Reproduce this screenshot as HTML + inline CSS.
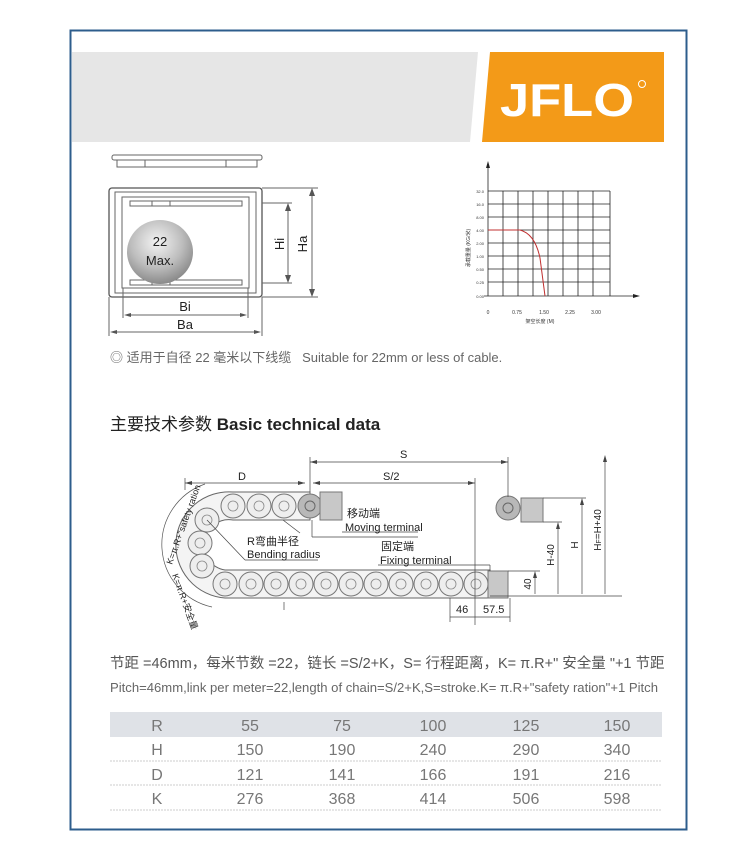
<!DOCTYPE html>
<html><head><meta charset="utf-8"><style>
body{margin:0;background:#fff;width:750px;height:859px;overflow:hidden;font-family:"Liberation Sans","Noto Sans CJK SC",sans-serif}
</style></head><body>
<svg width="750" height="859" viewBox="0 0 750 859" xmlns="http://www.w3.org/2000/svg" style="position:absolute;left:0;top:0;font-family:'Liberation Sans','Noto Sans CJK SC',sans-serif">
<rect x="70.5" y="30.5" width="616" height="799" fill="#fff" stroke="#2d5d8c" stroke-width="2"/>
<polygon points="72,52 478,52 470,142 72,142" fill="#e6e6e6"/>
<polygon points="490,52 664,52 664,142 482,142" fill="#f39a18"/>
<text x="500" y="116" font-size="46" font-weight="bold" fill="#fff" textLength="134" lengthAdjust="spacingAndGlyphs">JFLO</text>
<circle cx="642" cy="84" r="3.5" fill="none" stroke="#fff" stroke-width="1"/>
<!-- top view -->
<g fill="none" stroke="#666" stroke-width="1">
<rect x="112" y="155" width="150" height="5" rx="2"/>
<rect x="117" y="160" width="140" height="7"/>
<line x1="145" y1="160" x2="145" y2="167"/><line x1="226" y1="160" x2="226" y2="167"/>
<!-- cross section -->
<rect x="109" y="188" width="153" height="109" rx="3" stroke="#555" stroke-width="1.3"/>
<rect x="115" y="192" width="141" height="101"/>
<rect x="122" y="197" width="127" height="91"/>
<rect x="130" y="201" width="40" height="5"/><rect x="152" y="201" width="90" height="5"/>
<rect x="130" y="280" width="40" height="5"/><rect x="152" y="280" width="90" height="5"/>
<line x1="262" y1="188" x2="318" y2="188"/><line x1="262" y1="297" x2="318" y2="297"/>
<line x1="262" y1="203" x2="292" y2="203"/><line x1="262" y1="283" x2="292" y2="283"/>
<line x1="312" y1="190" x2="312" y2="295"/><line x1="288" y1="205" x2="288" y2="281"/>
<line x1="123" y1="288" x2="123" y2="318"/><line x1="248" y1="288" x2="248" y2="318"/>
<line x1="109" y1="297" x2="109" y2="336"/><line x1="262" y1="297" x2="262" y2="336"/>
<line x1="127" y1="315" x2="245" y2="315"/><line x1="113" y1="332" x2="259" y2="332"/>
</g>
<g fill="#555"><polygon points="312,188 309,196 315,196"/><polygon points="312,297 309,289 315,289"/>
<polygon points="288,203 285,211 291,211"/><polygon points="288,283 285,275 291,275"/>
<polygon points="124,315 131,313 131,317"/><polygon points="247,315 240,313 240,317"/>
<polygon points="110,332 117,330 117,334"/><polygon points="261,332 254,330 254,334"/></g>
<defs><radialGradient id="g" cx="45%" cy="35%" r="65%"><stop offset="0" stop-color="#f4f4f4"/><stop offset="0.6" stop-color="#bdbdbd"/><stop offset="1" stop-color="#8a8a8a"/></radialGradient></defs>
<ellipse cx="160" cy="252" rx="33" ry="32" fill="url(#g)"/>
<text x="160" y="246" font-size="13" text-anchor="middle" fill="#222">22</text>
<text x="160" y="265" font-size="13" text-anchor="middle" fill="#222">Max.</text>
<text x="185" y="311" font-size="13" text-anchor="middle" fill="#222">Bi</text>
<text x="185" y="329" font-size="13" text-anchor="middle" fill="#222">Ba</text>
<text x="284" y="244" font-size="13" fill="#222" transform="rotate(-90 284 244)" text-anchor="middle">Hi</text>
<text x="307" y="244" font-size="13" fill="#222" transform="rotate(-90 307 244)" text-anchor="middle">Ha</text>
<!-- graph -->
<g stroke="#222" stroke-width="0.8">
<line x1="488" y1="296" x2="488" y2="166"/><line x1="484" y1="296" x2="635" y2="296"/>
<line x1="503" y1="191" x2="503" y2="296"/><line x1="518" y1="191" x2="518" y2="296"/><line x1="533" y1="191" x2="533" y2="296"/><line x1="548" y1="191" x2="548" y2="296"/><line x1="563" y1="191" x2="563" y2="296"/><line x1="578" y1="191" x2="578" y2="296"/><line x1="593" y1="191" x2="593" y2="296"/><line x1="610" y1="191" x2="610" y2="296"/>
<line x1="488" y1="191" x2="610" y2="191"/><line x1="488" y1="204" x2="610" y2="204"/><line x1="488" y1="217" x2="610" y2="217"/><line x1="488" y1="230" x2="610" y2="230"/><line x1="488" y1="243" x2="610" y2="243"/><line x1="488" y1="256" x2="610" y2="256"/><line x1="488" y1="269" x2="610" y2="269"/><line x1="488" y1="282" x2="610" y2="282"/>
</g>
<polygon points="488,161 486,168 490,168" fill="#222"/><polygon points="640,296 633,294 633,298" fill="#222"/>
<path d="M488,230 L520,230 Q535,234 540,258 L545,296" fill="none" stroke="#c03030" stroke-width="1"/>
<g font-size="4" fill="#333" text-anchor="end"><text x="484" y="193">32.0</text><text x="484" y="206">16.0</text><text x="484" y="219">8.00</text><text x="484" y="232">4.00</text><text x="484" y="245">2.00</text><text x="484" y="258">1.00</text><text x="484" y="271">0.50</text><text x="484" y="284">0.25</text><text x="484" y="298">0.00</text></g>
<g font-size="5" fill="#333" text-anchor="middle"><text x="488" y="314">0</text><text x="517" y="314">0.75</text><text x="544" y="314">1.50</text><text x="570" y="314">2.25</text><text x="596" y="314">3.00</text><text x="540" y="323">架空长度 (M)</text></g>
<text x="470" y="248" font-size="5" fill="#333" transform="rotate(-90 470 248)" text-anchor="middle">承载重量 (KG/米)</text>
<text x="110" y="362" font-size="13" fill="#666">◎ 适用于自径 22 毫米以下线缆 &#160;&#160;Suitable for 22mm or less of cable.</text>
<text x="110" y="430" font-size="17" fill="#222">主要技术参数 <tspan font-weight="bold">Basic technical data</tspan></text>
<!-- chain -->
<path d="M310,492 L233,492 A53,53 0 0 0 225,598 L490,598 L490,570 L225,570 A25,25 0 0 1 233,520 L310,520 Z" fill="#f4f4f4" stroke="#666" stroke-width="1"/>
<g fill="#eee" stroke="#777" stroke-width="1">
<circle cx="233" cy="506" r="12"/><circle cx="259" cy="506" r="12"/><circle cx="284" cy="506" r="12"/>
<circle cx="207" cy="520" r="12"/><circle cx="200" cy="543" r="12"/><circle cx="202" cy="566" r="12"/>
<circle cx="225" cy="584" r="12"/><circle cx="251" cy="584" r="12"/><circle cx="276" cy="584" r="12"/><circle cx="301" cy="584" r="12"/><circle cx="326" cy="584" r="12"/><circle cx="351" cy="584" r="12"/><circle cx="376" cy="584" r="12"/><circle cx="401" cy="584" r="12"/><circle cx="426" cy="584" r="12"/><circle cx="451" cy="584" r="12"/><circle cx="476" cy="584" r="12"/>
</g>
<g fill="none" stroke="#888" stroke-width="0.8">
<circle cx="233" cy="506" r="5"/><circle cx="259" cy="506" r="5"/><circle cx="284" cy="506" r="5"/><circle cx="207" cy="520" r="5"/><circle cx="200" cy="543" r="5"/><circle cx="202" cy="566" r="5"/>
<circle cx="225" cy="584" r="5"/><circle cx="251" cy="584" r="5"/><circle cx="276" cy="584" r="5"/><circle cx="301" cy="584" r="5"/><circle cx="326" cy="584" r="5"/><circle cx="351" cy="584" r="5"/><circle cx="376" cy="584" r="5"/><circle cx="401" cy="584" r="5"/><circle cx="426" cy="584" r="5"/><circle cx="451" cy="584" r="5"/><circle cx="476" cy="584" r="5"/>
</g>
<circle cx="310" cy="506" r="12" fill="#b8b8b8" stroke="#777"/><circle cx="310" cy="506" r="5" fill="none" stroke="#666"/>
<rect x="320" y="492" width="22" height="28" fill="#c8c8c8" stroke="#777"/>
<rect x="488" y="571" width="20" height="27" fill="#c8c8c8" stroke="#777"/>
<circle cx="508" cy="508" r="12" fill="#b8b8b8" stroke="#777"/><circle cx="508" cy="508" r="5" fill="none" stroke="#666"/>
<rect x="521" y="498" width="22" height="24" fill="#c8c8c8" stroke="#777"/>
<g stroke="#444" stroke-width="0.7" fill="none">
<line x1="310" y1="462" x2="508" y2="462"/><line x1="310" y1="457" x2="310" y2="492"/><line x1="508" y1="457" x2="508" y2="497"/>
<line x1="185" y1="483" x2="305" y2="483"/><line x1="313" y1="483" x2="475" y2="483"/><line x1="475" y1="478" x2="475" y2="625"/>
<line x1="185" y1="478" x2="185" y2="490"/>
<line x1="490" y1="596" x2="622" y2="596"/>
<line x1="508" y1="571" x2="540" y2="571"/><line x1="535" y1="573" x2="535" y2="594"/>
<line x1="543" y1="522" x2="562" y2="522"/><line x1="558" y1="524" x2="558" y2="594"/>
<line x1="543" y1="498" x2="586" y2="498"/><line x1="582" y1="500" x2="582" y2="594"/>
<line x1="605" y1="457" x2="605" y2="594"/>
<line x1="450" y1="598" x2="450" y2="622"/><line x1="510" y1="598" x2="510" y2="622"/>
<line x1="450" y1="617" x2="510" y2="617"/>
<line x1="283" y1="520" x2="300" y2="533"/><line x1="207" y1="520" x2="245" y2="560"/><line x1="245" y1="560" x2="318" y2="560"/>
<line x1="312" y1="520" x2="312" y2="537"/><line x1="312" y1="537" x2="418" y2="537"/>
<line x1="342" y1="532" x2="418" y2="532"/>
<line x1="378" y1="565" x2="490" y2="565"/><line x1="490" y1="565" x2="490" y2="571"/>
<line x1="284" y1="602" x2="284" y2="610"/>
</g>
<path d="M205,484 A64,64 0 0 0 212,607" fill="none" stroke="#555" stroke-width="0.7"/>
<g font-size="11" fill="#222">
<text x="238" y="480">D</text><text x="400" y="458">S</text><text x="383" y="480">S/2</text>
<text x="347" y="517">移动端</text><text x="345" y="531">Moving terminal</text>
<text x="247" y="545">R弯曲半径</text><text x="247" y="558">Bending radius</text>
<text x="381" y="550">固定端</text><text x="380" y="564">Fixing terminal</text>
<text x="456" y="613">46</text><text x="483" y="613">57.5</text>
</g>
<g font-size="10" fill="#222">
<text x="531" y="584" transform="rotate(-90 531 584)" text-anchor="middle">40</text>
<text x="554" y="555" transform="rotate(-90 554 555)" text-anchor="middle">H-40</text>
<text x="578" y="545" transform="rotate(-90 578 545)" text-anchor="middle">H</text>
<text x="601" y="530" transform="rotate(-90 601 530)" text-anchor="middle">H<tspan font-size="7">F</tspan>=H+40</text>
<text x="172" y="565" transform="rotate(-70 172 565)" font-size="9">K=π.R+"safety ration</text>
<text x="172" y="575" transform="rotate(70 172 575)" font-size="9">K=π.R+安全量</text>
</g>
<g fill="#444"><polygon points="310,462 317,460 317,464"/><polygon points="508,462 501,460 501,464"/><polygon points="185,483 192,481 192,485"/><polygon points="305,483 298,481 298,485"/><polygon points="313,483 320,481 320,485"/><polygon points="475,483 468,481 468,485"/>
<polygon points="605,455 603,462 607,462"/><polygon points="582,498 580,505 584,505"/><polygon points="558,522 556,529 560,529"/><polygon points="535,571 533,578 537,578"/></g>
<text x="110" y="668" font-size="14.5" fill="#555">节距 =46mm，每米节数 =22，链长 =S/2+K，S= 行程距离，K= π.R+" 安全量 "+1 节距</text>
<text x="110" y="692" font-size="13" fill="#666" textLength="548" lengthAdjust="spacingAndGlyphs">Pitch=46mm,link per meter=22,length of chain=S/2+K,S=stroke.K= π.R+"safety ration"+1 Pitch</text>
<rect x="110" y="712" width="552" height="25" fill="#dfe2e7"/>
<g stroke="#ccc" stroke-width="1" stroke-dasharray="2,1"><line x1="110" y1="761" x2="662" y2="761"/><line x1="110" y1="785" x2="662" y2="785"/><line x1="110" y1="810" x2="662" y2="810"/></g>
<g font-size="16" fill="#777" text-anchor="middle">
<text x="157" y="731">R</text><text x="250" y="731">55</text><text x="342" y="731">75</text><text x="433" y="731">100</text><text x="526" y="731">125</text><text x="617" y="731">150</text>
<text x="157" y="755">H</text><text x="250" y="755">150</text><text x="342" y="755">190</text><text x="433" y="755">240</text><text x="526" y="755">290</text><text x="617" y="755">340</text>
<text x="157" y="780">D</text><text x="250" y="780">121</text><text x="342" y="780">141</text><text x="433" y="780">166</text><text x="526" y="780">191</text><text x="617" y="780">216</text>
<text x="157" y="804">K</text><text x="250" y="804">276</text><text x="342" y="804">368</text><text x="433" y="804">414</text><text x="526" y="804">506</text><text x="617" y="804">598</text>
</g>
</svg>
</body></html>
